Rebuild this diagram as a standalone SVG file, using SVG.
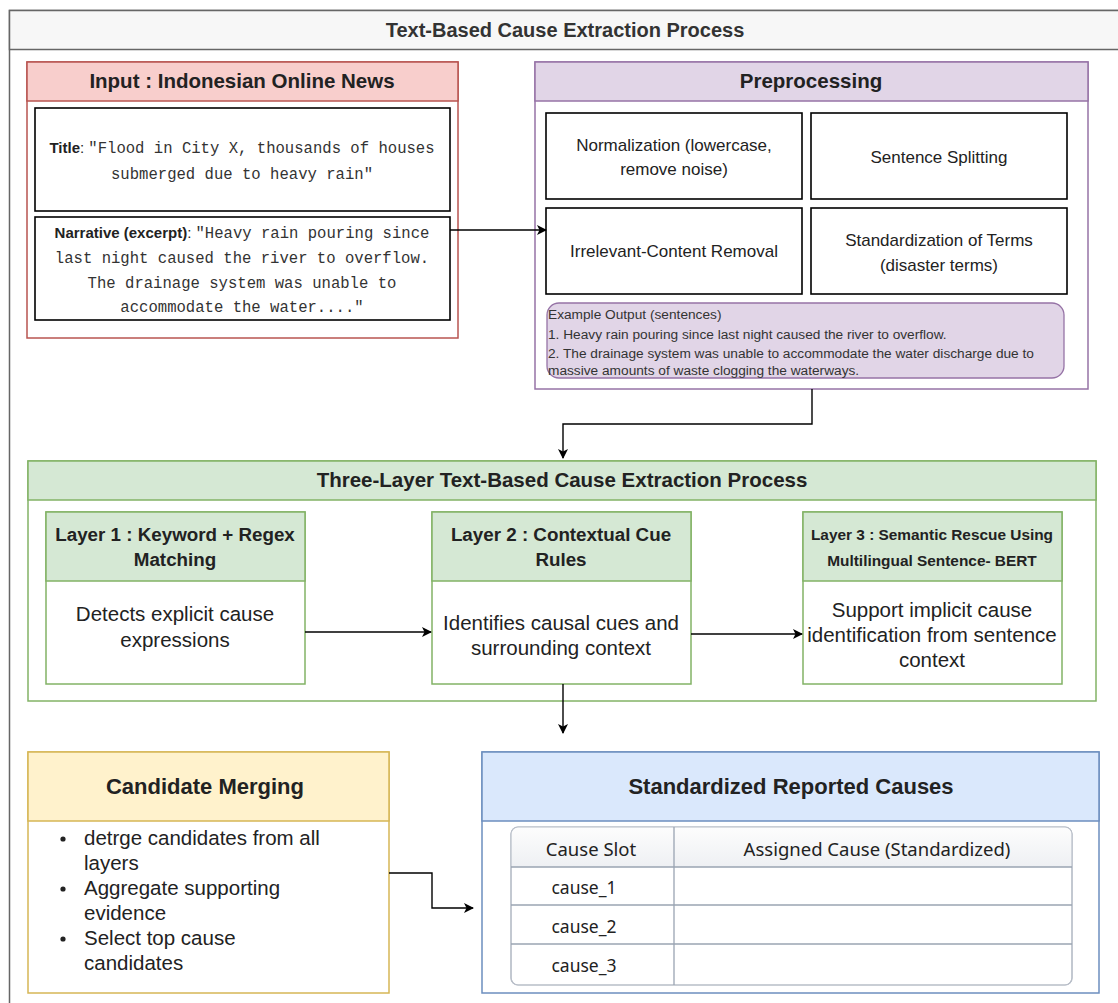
<svg xmlns="http://www.w3.org/2000/svg" width="1118" height="1003" viewBox="0 0 1118 1003">
<style>
.sans{font-family:"Liberation Sans",Arial,sans-serif;fill:#222}
.mono{font-family:"Liberation Mono","DejaVu Sans Mono",monospace;fill:#333;font-size:15.6px}
.b{font-weight:bold}
.c{text-anchor:middle}
.box{fill:#fff;stroke:#000;stroke-width:1.6}
.conn{fill:none;stroke:#000;stroke-width:1.4}
.tbl{font-family:"Noto Sans",Lato,sans-serif;fill:#222}
</style>
<defs>
<marker id="ah2" viewBox="0 0 10 10" refX="9" refY="5" markerWidth="10" markerHeight="10" orient="auto" markerUnits="userSpaceOnUse">
<path d="M0,0 L10,5 L0,10 L2.5,5 Z" fill="#000"/>
</marker>
<linearGradient id="th" x1="0" y1="0" x2="0" y2="1"><stop offset="0" stop-color="#fdfdfd"/><stop offset="1" stop-color="#eef0f3"/></linearGradient>
</defs>
<rect width="1118" height="1003" fill="#fff"/>
<g id="frame">
<rect x="9.5" y="10.5" width="1120" height="1000" fill="#fff" stroke="#666" stroke-width="1.5"/>
<rect x="9.5" y="10.5" width="1120" height="39" fill="#f7f7f7" stroke="#666" stroke-width="1.5"/>
<text class="sans b c" x="565" y="37" font-size="20" style="fill:#333">Text-Based Cause Extraction Process</text>
</g>
<g id="input">
<rect x="27" y="62" width="431" height="276" fill="#fff" stroke="#b85450" stroke-width="1.5"/>
<rect x="27" y="62" width="431" height="39" fill="#f8cecc" stroke="#b85450" stroke-width="1.5"/>
<text class="sans b c" x="242" y="88" font-size="20.5">Input : Indonesian Online News</text>
<rect class="box" x="35" y="108" width="415" height="103"/>
<text x="242" y="153" class="c"><tspan class="sans b" font-size="15">Title</tspan><tspan class="sans" font-size="15">: </tspan><tspan class="mono">"Flood in City X, thousands of houses</tspan></text>
<text class="mono c" x="242" y="179">submerged due to heavy rain"</text>
<rect class="box" x="35" y="217" width="415" height="103"/>
<text x="242" y="238" class="c"><tspan class="sans b" font-size="15">Narrative (excerpt)</tspan><tspan class="sans" font-size="15">: </tspan><tspan class="mono">"Heavy rain pouring since</tspan></text>
<text class="mono c" x="242" y="263">last night caused the river to overflow.</text>
<text class="mono c" x="242" y="288">The drainage system was unable to</text>
<text class="mono c" x="242" y="312">accommodate the water...."</text>
</g>
<g id="preprocessing">
<rect x="535" y="62" width="553" height="327" fill="#fff" stroke="#9673a6" stroke-width="1.5"/>
<rect x="535" y="62" width="553" height="39" fill="#e1d5e7" stroke="#9673a6" stroke-width="1.5"/>
<text class="sans b c" x="811" y="88" font-size="20.5">Preprocessing</text>
<rect class="box" x="546" y="113" width="256" height="86"/>
<text class="sans c" x="674" y="151" font-size="17">Normalization (lowercase,</text>
<text class="sans c" x="674" y="175" font-size="17">remove noise)</text>
<rect class="box" x="811" y="113" width="256" height="86"/>
<text class="sans c" x="939" y="163" font-size="17">Sentence Splitting</text>
<rect class="box" x="546" y="208" width="256" height="86"/>
<text class="sans c" x="674" y="257" font-size="17">Irrelevant-Content Removal</text>
<rect class="box" x="811" y="208" width="256" height="86"/>
<text class="sans c" x="939" y="246" font-size="17">Standardization of Terms</text>
<text class="sans c" x="939" y="271" font-size="17">(disaster terms)</text>
<rect x="547" y="303" width="517" height="75" rx="12" ry="12" fill="#e1d5e7" stroke="#9673a6" stroke-width="1.3"/>
<g class="sans" font-size="13.7" style="fill:#333">
<text x="548" y="319">Example Output (sentences)</text>
<text x="548" y="339">1. Heavy rain pouring since last night caused the river to overflow.</text>
<text x="548" y="358">2. The drainage system was unable to accommodate the water discharge due to</text>
<text x="548" y="375">massive amounts of waste clogging the waterways.</text>
</g>
</g>
<g id="three-layer">
<rect x="28" y="461" width="1068" height="240" fill="#fff" stroke="#82b366" stroke-width="1.5"/>
<rect x="28" y="461" width="1068" height="39" fill="#d5e8d4" stroke="#82b366" stroke-width="1.5"/>
<text class="sans b c" x="562" y="487" font-size="20.5">Three-Layer Text-Based Cause Extraction Process</text>
</g>
<g id="layer1">
<rect x="46" y="512" width="259" height="172" fill="#fff" stroke="#82b366" stroke-width="1.5"/>
<rect x="46" y="512" width="259" height="69" fill="#d5e8d4" stroke="#82b366" stroke-width="1.5"/>
<text class="sans b c" x="175" y="541" font-size="18.8">Layer 1 : Keyword + Regex</text>
<text class="sans b c" x="175" y="566" font-size="18.8">Matching</text>
<text class="sans c" x="175" y="621" font-size="20.5">Detects explicit cause</text>
<text class="sans c" x="175" y="647" font-size="20.5">expressions</text>
</g>
<g id="layer2">
<rect x="432" y="512" width="259" height="172" fill="#fff" stroke="#82b366" stroke-width="1.5"/>
<rect x="432" y="512" width="259" height="69" fill="#d5e8d4" stroke="#82b366" stroke-width="1.5"/>
<text class="sans b c" x="561" y="541" font-size="18.8">Layer 2 : Contextual Cue</text>
<text class="sans b c" x="561" y="566" font-size="18.8">Rules</text>
<text class="sans c" x="561" y="630" font-size="20.5">Identifies causal cues and</text>
<text class="sans c" x="561" y="655" font-size="20.5">surrounding context</text>
</g>
<g id="layer3">
<rect x="803" y="512" width="259" height="172" fill="#fff" stroke="#82b366" stroke-width="1.5"/>
<rect x="803" y="512" width="259" height="69" fill="#d5e8d4" stroke="#82b366" stroke-width="1.5"/>
<text class="sans b c" x="932" y="540" font-size="15.4">Layer 3 : Semantic Rescue Using</text>
<text class="sans b c" x="932" y="566" font-size="15.4">Multilingual Sentence- BERT</text>
<text class="sans c" x="932" y="617" font-size="20.5">Support implicit cause</text>
<text class="sans c" x="932" y="642" font-size="20.5">identification from sentence</text>
<text class="sans c" x="932" y="667" font-size="20.5">context</text>
</g>
<g id="candidate-merging">
<rect x="28" y="752" width="361" height="241" fill="#fff" stroke="#d6b656" stroke-width="1.5"/>
<rect x="28" y="752" width="361" height="69" fill="#fff2cc" stroke="#d6b656" stroke-width="1.5"/>
<text class="sans b c" x="205" y="794" font-size="22">Candidate Merging</text>
<g class="sans" font-size="20.5">
<circle cx="63" cy="839" r="2.6" fill="#222"/>
<text x="84" y="845">detrge candidates from all</text>
<text x="84" y="870">layers</text>
<circle cx="63" cy="889" r="2.6" fill="#222"/>
<text x="84" y="895">Aggregate supporting</text>
<text x="84" y="920">evidence</text>
<circle cx="63" cy="939" r="2.6" fill="#222"/>
<text x="84" y="945">Select top cause</text>
<text x="84" y="970">candidates</text>
</g>
</g>
<g id="standardized-causes">
<rect x="482" y="752" width="617" height="241" fill="#fff" stroke="#6c8ebf" stroke-width="1.5"/>
<rect x="482" y="752" width="617" height="69" fill="#dae8fc" stroke="#6c8ebf" stroke-width="1.5"/>
<text class="sans b c" x="791" y="794" font-size="22">Standardized Reported Causes</text>
<rect x="511" y="827" width="561" height="158" rx="7" fill="#fff" stroke="#b8bec8" stroke-width="1.2"/>
<path d="M518,827 H1065 A7,7 0 0 1 1072,834 V867 H511 V834 A7,7 0 0 1 518,827 Z" fill="url(#th)"/>
<rect x="511" y="827" width="561" height="158" rx="7" fill="none" stroke="#b8bec8" stroke-width="1.2"/>
<g stroke="#9aa4b2" stroke-width="1.3">
<line x1="511" y1="867" x2="1072" y2="867"/>
<line x1="511" y1="905" x2="1072" y2="905"/>
<line x1="511" y1="944" x2="1072" y2="944"/>
<line x1="674" y1="827" x2="674" y2="985"/>
</g>
<text class="tbl c" x="591" y="856" font-size="18.5">Cause Slot</text>
<text class="tbl c" x="877" y="856" font-size="18.5">Assigned Cause (Standardized)</text>
<text class="tbl c" x="584" y="894" font-size="17.5">cause_1</text>
<text class="tbl c" x="584" y="933" font-size="17.5">cause_2</text>
<text class="tbl c" x="584" y="972" font-size="17.5">cause_3</text>
</g>
<g id="connectors">
<path class="conn" d="M450,230 H546" marker-end="url(#ah2)"/>
<path class="conn" d="M812,389 V424 H563 V458" marker-end="url(#ah2)"/>
<path class="conn" d="M305,632 H431" marker-end="url(#ah2)"/>
<path class="conn" d="M691,634 H802" marker-end="url(#ah2)"/>
<path class="conn" d="M563,684 V733" marker-end="url(#ah2)"/>
<path class="conn" d="M389,873 H432 V908 H473" marker-end="url(#ah2)"/>
</g>
</svg>
